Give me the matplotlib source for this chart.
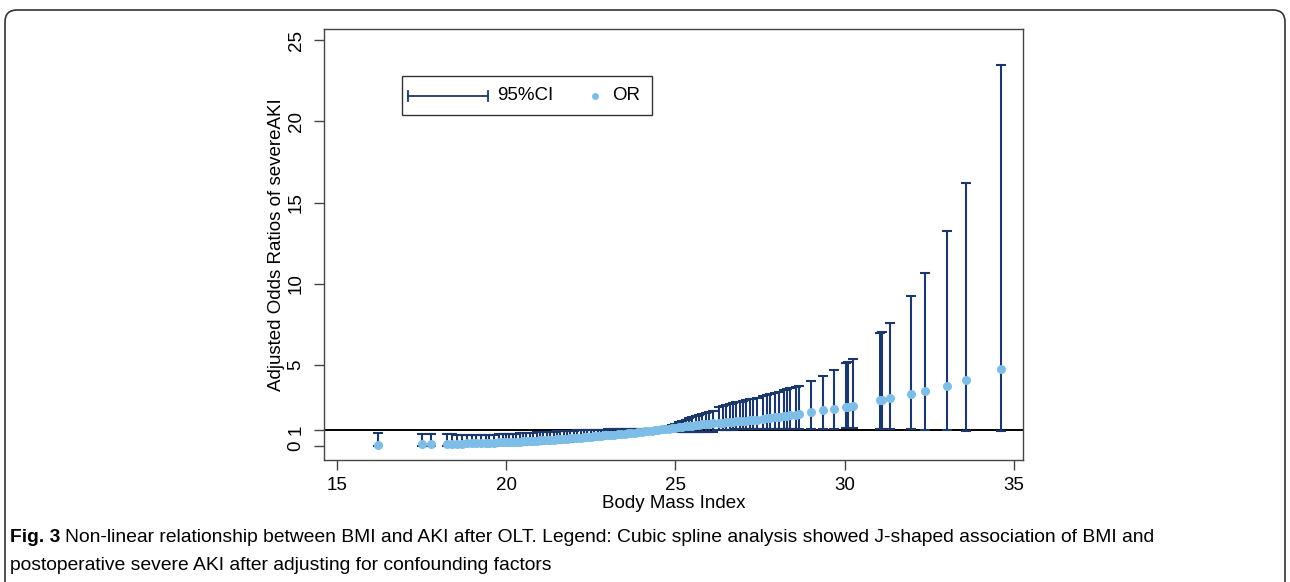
import numpy as np
import matplotlib
matplotlib.use('Agg')
import matplotlib.pyplot as plt
from matplotlib.patches import FancyBboxPatch, Rectangle
from matplotlib.lines import Line2D
from matplotlib.transforms import IdentityTransform

# BMI values, adjusted odds ratios and 95% CI
bmi = [16.22, 17.52, 17.78, 18.25, 18.40, 18.55, 18.70, 18.85, 19.00, 19.10,
       19.25, 19.40, 19.50, 19.65, 19.80, 19.90, 20.00, 20.10, 20.20, 20.30,
       20.40, 20.50, 20.60, 20.70, 20.80, 20.90, 21.00, 21.10, 21.20, 21.30,
       21.40, 21.50, 21.60, 21.70, 21.80, 21.90, 22.00, 22.10, 22.20, 22.30,
       22.40, 22.50, 22.60, 22.70, 22.80, 22.90, 23.00, 23.10, 23.20, 23.30,
       23.40, 23.50, 23.60, 23.70, 23.80, 23.90, 24.00, 24.10, 24.20, 24.30,
       24.40, 24.50, 24.60, 24.70, 24.80, 24.90, 25.00, 25.10, 25.20, 25.30,
       25.40, 25.50, 25.60, 25.70, 25.80, 25.90, 26.00, 26.10, 26.30, 26.40,
       26.50, 26.60, 26.70, 26.80, 26.90, 27.00, 27.10, 27.20, 27.30, 27.40,
       27.60, 27.70, 27.80, 27.95, 28.05, 28.20, 28.30, 28.40, 28.55, 28.65,
       29.00, 29.35, 29.70, 30.05, 30.10, 30.25, 31.05, 31.10, 31.35, 31.95,
       32.38, 33.02, 33.60, 34.62]

odds = [0.05, 0.10, 0.11, 0.13, 0.14, 0.15, 0.15, 0.16, 0.17, 0.17,
        0.18, 0.19, 0.20, 0.21, 0.22, 0.23, 0.24, 0.25, 0.26, 0.27,
        0.28, 0.29, 0.30, 0.31, 0.33, 0.34, 0.35, 0.36, 0.38, 0.39,
        0.40, 0.42, 0.43, 0.45, 0.46, 0.48, 0.49, 0.51, 0.52, 0.54,
        0.56, 0.57, 0.59, 0.61, 0.63, 0.65, 0.67, 0.69, 0.71, 0.73,
        0.75, 0.77, 0.79, 0.81, 0.83, 0.85, 0.88, 0.90, 0.93, 0.95,
        0.98, 1.00, 1.03, 1.05, 1.08, 1.10, 1.13, 1.16, 1.19, 1.21,
        1.24, 1.26, 1.28, 1.31, 1.33, 1.35, 1.37, 1.39, 1.42, 1.44,
        1.46, 1.48, 1.50, 1.52, 1.54, 1.56, 1.57, 1.59, 1.61, 1.63,
        1.68, 1.70, 1.73, 1.76, 1.79, 1.83, 1.86, 1.89, 1.93, 1.97,
        2.10, 2.20, 2.30, 2.41, 2.42, 2.46, 2.82, 2.84, 2.94, 3.21,
        3.42, 3.72, 4.07, 4.73]

ci_low = [0.00, 0.00, 0.00, 0.01, 0.01, 0.01, 0.01, 0.01, 0.02, 0.02,
          0.02, 0.02, 0.03, 0.03, 0.04, 0.04, 0.05, 0.05, 0.06, 0.07,
          0.08, 0.09, 0.10, 0.11, 0.12, 0.13, 0.14, 0.16, 0.17, 0.18,
          0.20, 0.21, 0.23, 0.24, 0.26, 0.28, 0.29, 0.31, 0.33, 0.35,
          0.37, 0.39, 0.41, 0.43, 0.45, 0.48, 0.50, 0.52, 0.55, 0.57,
          0.60, 0.62, 0.65, 0.68, 0.71, 0.74, 0.78, 0.82, 0.86, 0.90,
          0.95, 0.98, 0.97, 0.95, 0.94, 0.92, 0.90, 0.89, 0.88, 0.87,
          0.86, 0.86, 0.86, 0.86, 0.87, 0.87, 0.88, 0.89, 0.98, 0.99,
          1.00, 1.01, 1.01, 1.02, 1.02, 1.03, 1.03, 1.04, 1.04, 1.04,
          1.05, 1.05, 1.05, 1.05, 1.05, 1.05, 1.05, 1.05, 1.05, 1.05,
          1.05, 1.06, 1.08, 1.10, 1.10, 1.10, 1.08, 1.08, 1.06, 1.02,
          0.99, 0.96, 0.94, 0.92]

ci_high = [0.78, 0.74, 0.74, 0.72, 0.72, 0.71, 0.71, 0.70, 0.70, 0.70,
           0.70, 0.70, 0.71, 0.71, 0.72, 0.73, 0.74, 0.75, 0.76, 0.77,
           0.78, 0.79, 0.80, 0.81, 0.83, 0.84, 0.85, 0.86, 0.87, 0.88,
           0.89, 0.90, 0.91, 0.92, 0.93, 0.94, 0.95, 0.96, 0.97, 0.98,
           0.98, 0.99, 1.00, 1.00, 1.01, 1.01, 1.02, 1.02, 1.02, 1.02,
           1.03, 1.03, 1.03, 1.03, 1.02, 1.02, 1.02, 1.01, 1.01, 1.00,
           1.00, 1.02, 1.08, 1.14, 1.22, 1.30, 1.38, 1.47, 1.55, 1.62,
           1.70, 1.78, 1.86, 1.93, 1.99, 2.05, 2.12, 2.18, 2.42, 2.47,
           2.53, 2.58, 2.63, 2.69, 2.74, 2.79, 2.83, 2.87, 2.92, 2.97,
           3.07, 3.13, 3.19, 3.28, 3.35, 3.44, 3.50, 3.56, 3.63, 3.68,
           4.00, 4.32, 4.69, 5.10, 5.16, 5.38, 6.98, 7.02, 7.57, 9.22,
           10.66, 13.23, 16.20, 23.50]

x_ticks = [15, 20, 25, 30, 35]
y_ticks = [0, 1, 5, 10, 15, 20, 25]

NAVY = '#1c3769'
LIGHT = '#7dbde8'
FONT = ['Liberation Sans', 'DejaVu Sans']

W, H = 1290, 582
fig = plt.figure(figsize=(W / 100, H / 100), dpi=100)
# axes box in pixels: left 324, right 1023, top 29, bottom 460
ax = fig.add_axes([324 / W, 1 - 460 / H, 699 / W, 431 / H])

odds = np.array(odds)
yerr = [odds - np.array(ci_low), np.array(ci_high) - odds]

ax.axhline(1, color='black', lw=1.4, zorder=1)
ax.errorbar(bmi, odds, yerr=yerr, fmt='none', ecolor=NAVY, elinewidth=1.5,
            capsize=3.4, capthick=1.5, zorder=2)
ax.plot(bmi, odds, 'o', color=LIGHT, ms=6.5, mec='none', zorder=3)

ax.set_xlim(14.62, 35.27)
ax.set_ylim(-0.86, 25.7)
ax.set_xticks(x_ticks)
ax.set_yticks(y_ticks)
ax.set_xticklabels([str(t) for t in x_ticks], family=FONT, fontsize=13.5)
ax.set_yticklabels([str(t) for t in y_ticks], family=FONT, fontsize=13.5,
                   rotation=90, va='center')
ax.tick_params(axis='both', direction='out', length=7, width=1, color='#444444')
ax.tick_params(axis='y', pad=7)
ax.tick_params(axis='x', pad=5)
for s in ax.spines.values():
    s.set_color('#444444')
    s.set_linewidth(1)

ax.set_xlabel('Body Mass Index', family=FONT, fontsize=13.5, labelpad=1)
ax.set_ylabel('Adjusted Odds Ratios of severeAKI', family=FONT, fontsize=13.5,
              labelpad=2)


# legend drawn by hand (pixel layout converted to axes fractions)
def fx(px):
    return (px - 324) / 699


def fy(py):
    return (460 - py) / 431


tr = ax.transAxes
ax.add_patch(Rectangle((fx(402), fy(115)), fx(652) - fx(402), fy(76) - fy(115),
                       transform=tr, facecolor='white', edgecolor='#333333',
                       lw=1, zorder=5))
ax.add_line(Line2D([fx(408), fx(488)], [fy(96), fy(96)], transform=tr,
                   color=NAVY, lw=1.3, zorder=6))
for px in (408, 488):
    ax.add_line(Line2D([fx(px), fx(px)], [fy(91), fy(101)], transform=tr,
                       color=NAVY, lw=1.3, zorder=6))
ax.text(fx(497), fy(96), '95%CI', transform=tr, family=FONT, fontsize=13.5,
        va='center', ha='left', zorder=6)
ax.add_line(Line2D([fx(595)], [fy(96)], transform=tr, marker='o', ms=5,
                   color=LIGHT, mec='none', zorder=6))
ax.text(fx(612), fy(96), 'OR', transform=tr, family=FONT, fontsize=13.5,
        va='center', ha='left', zorder=6)

# outer frame of the published figure panel
fig.add_artist(FancyBboxPatch((5, -30), 1280, 30 + (H - 10), transform=IdentityTransform(),
                              boxstyle='round,pad=0,rounding_size=12',
                              facecolor='none', edgecolor='#333333', lw=1.2))

cap_font = ['Liberation Sans Narrow', 'Liberation Sans', 'DejaVu Sans']
cap_size = 13.9
fig.text(10 / W, 1 - 537 / H, 'Fig. 3', family=cap_font, fontsize=cap_size,
         weight='bold', va='center', ha='left')
fig.text(65 / W, 1 - 537 / H,
         'Non-linear relationship between BMI and AKI after OLT. Legend: Cubic spline '
         'analysis showed J-shaped association of BMI and',
         family=cap_font, fontsize=cap_size, va='center', ha='left')
fig.text(10 / W, 1 - 565 / H,
         'postoperative severe AKI after adjusting for confounding factors',
         family=cap_font, fontsize=cap_size, va='center', ha='left')

fig.savefig('out.png', dpi=100)
